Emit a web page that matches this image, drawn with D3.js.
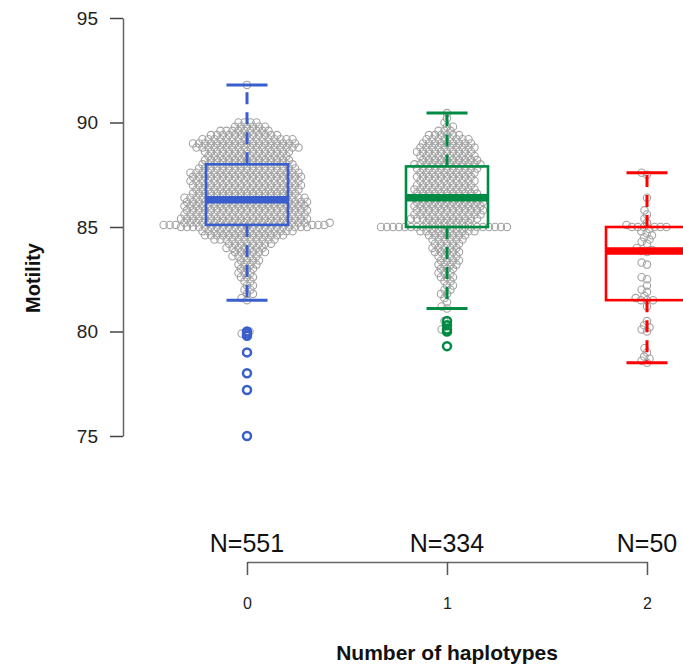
<!DOCTYPE html>
<html>
<head>
<meta charset="utf-8">
<script src="https://cdn.jsdelivr.net/npm/d3@7/dist/d3.min.js"></script>
<style>
  html, body { margin: 0; padding: 0; background: #fff; }
  svg { display: block; font-family: "Liberation Sans", Arial, sans-serif; }
</style>
</head>
<body>
<svg id="chart" width="683" height="670"></svg>
<script>
// ---------------- data ----------------
const groups = ["0", "1", "2"];
const nLabels = ["N=551", "N=334", "N=50"];
const yTicks = [75, 80, 85, 90, 95];
const groupColors = ["#3A5FCD", "#008B45", "#FF0000"];

// boxplot statistics per group
const boxQ1 = [85.1, 85.0, 81.5];
const boxMedian = [86.3, 86.4, 83.85];
const boxQ3 = [88.0, 87.9, 85.0];
const whiskerLow = [81.5, 81.1, 78.5];
const whiskerHigh = [91.8, 90.45, 87.6];
const outliers0 = [80.0, 79.9, 79.8, 79.0, 78.0, 77.2, 75.0];
const outliers1 = [80.5, 80.3, 80.1, 80.0, 79.3];
const outliers2 = [];

// beeswarm values: value levels and how many points sit at each level
const values0 = [75.0, 77.2, 78.0, 79.0, 79.8, 79.9, 80.0, 81.5,
  81.6, 81.8, 82.0, 82.2, 82.4, 82.6, 82.8, 83.0, 83.2, 83.4, 83.6, 83.8, 84.0, 84.2, 84.4, 84.6, 84.8,
  85.0, 85.1,
  85.2, 85.4, 85.6, 85.8, 86.0, 86.2, 86.4,
  86.6, 86.8, 87.0, 87.2, 87.4, 87.6, 87.8, 88.0,
  88.2, 88.4, 88.6, 88.8, 89.0, 89.2, 89.4, 89.6, 89.8, 90.0, 91.8];
const counts0 = [1, 1, 1, 1, 1, 1, 1, 1,
  1, 2, 2, 2, 2, 3, 3, 3, 4, 4, 5, 6, 7, 8, 11, 14, 16,
  22, 6,
  22, 22, 21, 21, 21, 21, 21,
  18, 18, 19, 19, 19, 19, 17, 16,
  15, 14, 15, 18, 18, 16, 12, 9, 6, 4, 1];

const values1 = [79.3, 80.0, 80.1, 80.3, 80.5, 81.1,
  81.2, 81.4, 81.6, 81.8, 82.0, 82.2, 82.4, 82.6, 82.8, 83.0, 83.2, 83.4, 83.6, 83.8, 84.0, 84.2, 84.4, 84.6, 84.8,
  85.0,
  85.2, 85.4, 85.6, 85.8, 86.0, 86.2, 86.4,
  86.6, 86.8, 87.0, 87.2, 87.4, 87.6, 87.8, 88.0,
  88.2, 88.4, 88.6, 88.8, 89.0, 89.2, 89.4, 89.6, 89.8, 90.0, 90.2, 90.45];
const counts1 = [1, 1, 1, 1, 1, 1,
  1, 1, 1, 2, 2, 2, 2, 3, 3, 3, 4, 4, 4, 5, 5, 5, 6, 7, 10,
  22,
  8, 12, 12, 12, 12, 12, 12,
  11, 11, 10, 10, 10, 10, 11, 12,
  10, 10, 10, 10, 9, 8, 6, 3, 2, 1, 1, 1];

const values2 = [87.6, 87.5, 86.4, 85.8, 85.6, 85.4, 85.2, 85.1, 85.0, 84.9, 84.8, 84.7, 84.6,
  84.5, 84.4, 84.3, 84.2, 84.0, 83.9, 83.85, 83.8, 83.3, 83.2, 82.6, 82.5, 82.2, 82.0, 81.9,
  81.7, 81.6, 81.5, 81.2, 80.5, 80.3, 80.2, 80.1, 80.0, 79.2, 79.0, 78.8, 78.7, 78.6, 78.5];
const counts2 = [1, 1, 1, 1, 1, 1, 1, 1, 6, 1, 1, 1, 1,
  1, 1, 1, 1, 1, 1, 1, 1, 1, 1, 1, 1, 1, 1, 1,
  1, 1, 3, 1, 1, 1, 1, 1, 1, 1, 1, 1, 1, 1, 1];

// ---------------- layout ----------------
const svg = d3.select("#chart");
const x = d3.scalePoint().domain(groups).range([247, 647]);
const y = d3.scaleLinear().domain([75, 95]).range([436, 18]);

const valueSets = [values0, values1, values2];
const countSets = [counts0, counts1, counts2];
const outlierSets = [outliers0, outliers1, outliers2];

// beeswarm (swarm method) horizontal offsets in pixel space
const SX = 6.0, SY = 4.6;
function swarm(ys) {
  const order = ys.map((_, i) => i).sort((a, b) => ys[b] - ys[a] || a - b);
  const placed = [];
  const xs = new Array(ys.length);
  for (const i of order) {
    const yy = ys[i];
    const nb = placed.filter(p => Math.abs(p.y - yy) < SY);
    const cands = [0];
    for (const p of nb) {
      const dy = (p.y - yy) / SY;
      const dx = SX * Math.sqrt(Math.max(0, 1 - dy * dy));
      cands.push(p.x + dx, p.x - dx);
    }
    cands.sort((a, b) => Math.abs(a) - Math.abs(b) || a - b);
    let best = 0;
    for (const c of cands) {
      const ok = nb.every(p => {
        const ddx = (c - p.x) / SX, ddy = (yy - p.y) / SY;
        return ddx * ddx + ddy * ddy >= 0.9999;
      });
      if (ok) { best = c; break; }
    }
    xs[i] = best;
    placed.push({ x: best, y: yy });
  }
  return xs;
}

const pointsLayer = svg.append("g");
groups.forEach((g, gi) => {
  const vals = [];
  valueSets[gi].forEach((v, k) => { for (let c = 0; c < countSets[gi][k]; c++) vals.push(v); });
  const ys = vals.map(v => y(v));
  const offs = swarm(ys);
  pointsLayer.append("g").selectAll("circle")
    .data(vals.map((v, k) => ({ v, dx: offs[k] })))
    .join("circle")
    .attr("cx", d => x(g) + d.dx)
    .attr("cy", d => y(d.v))
    .attr("r", 3.7)
    .attr("fill", "none")
    .attr("stroke", "#a3a3a3")
    .attr("stroke-width", 1.1);
});

// boxplots
const halfBox = 41, halfStaple = 20.5;
const boxLayer = svg.append("g");
groups.forEach((g, gi) => {
  const cx = x(g), col = groupColors[gi];
  const bg = boxLayer.append("g").attr("stroke", col).attr("fill", "none");
  // whiskers
  bg.append("line").attr("x1", cx).attr("x2", cx)
    .attr("y1", y(boxQ3[gi])).attr("y2", y(whiskerHigh[gi]))
    .attr("stroke-width", 3).attr("stroke-dasharray", "12,8");
  bg.append("line").attr("x1", cx).attr("x2", cx)
    .attr("y1", y(boxQ1[gi])).attr("y2", y(whiskerLow[gi]))
    .attr("stroke-width", 3).attr("stroke-dasharray", "12,8");
  // staples
  [whiskerHigh[gi], whiskerLow[gi]].forEach(v => {
    bg.append("line").attr("x1", cx - halfStaple).attr("x2", cx + halfStaple)
      .attr("y1", y(v)).attr("y2", y(v)).attr("stroke-width", 3);
  });
  // box
  bg.append("rect").attr("x", cx - halfBox).attr("width", 2 * halfBox)
    .attr("y", y(boxQ3[gi])).attr("height", y(boxQ1[gi]) - y(boxQ3[gi]))
    .attr("stroke-width", 2.6);
  // median
  bg.append("line").attr("x1", cx - halfBox).attr("x2", cx + halfBox)
    .attr("y1", y(boxMedian[gi])).attr("y2", y(boxMedian[gi]))
    .attr("stroke-width", 7.5);
  // outliers
  bg.selectAll("circle.out").data(outlierSets[gi]).join("circle")
    .attr("class", "out")
    .attr("cx", cx).attr("cy", d => y(d)).attr("r", 4)
    .attr("stroke-width", 2.5);
});

// y axis
const yAxis = svg.append("g").attr("transform", "translate(123,0)")
  .call(d3.axisLeft(y).tickValues(yTicks).tickSize(13).tickSizeOuter(0).tickPadding(12));
yAxis.attr("font-size", null).attr("font-family", null);
yAxis.select(".domain").attr("stroke", "#666").attr("stroke-width", 1.5);
yAxis.selectAll(".tick line").attr("stroke", "#444").attr("stroke-width", 1.5);
yAxis.selectAll(".tick text").style("font-size", "19px").attr("fill", "#222");

// x axis
const xAxis = svg.append("g").attr("transform", "translate(0,562)")
  .call(d3.axisBottom(x).tickSize(13).tickSizeOuter(0).tickPadding(23));
xAxis.attr("font-size", null).attr("font-family", null);
xAxis.select(".domain").attr("stroke", "#666").attr("stroke-width", 1.5);
xAxis.selectAll(".tick line").attr("stroke", "#555").attr("stroke-width", 1.5);
xAxis.selectAll(".tick text").style("font-size", "16px").attr("fill", "#222");

// N labels
svg.append("g").selectAll("text").data(groups).join("text")
  .attr("x", d => x(d)).attr("y", 552)
  .attr("text-anchor", "middle").style("font-size", "25px").attr("fill", "#111")
  .text((d, i) => nLabels[i]);

// axis titles
svg.append("text").attr("x", 447).attr("y", 660).attr("text-anchor", "middle")
  .style("font-size", "21px").attr("font-weight", "bold").attr("fill", "#111")
  .text("Number of haplotypes");
svg.append("text").attr("transform", "translate(40,278) rotate(-90)")
  .attr("text-anchor", "middle").style("font-size", "20px").attr("font-weight", "bold").attr("fill", "#111")
  .text("Motility");
</script>
</body>
</html>
